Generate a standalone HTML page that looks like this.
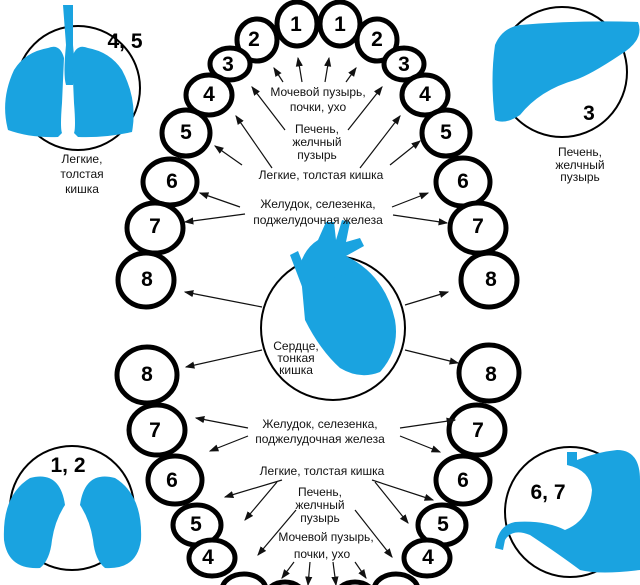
<!DOCTYPE html>
<html><head><meta charset="utf-8"><style>
html,body{margin:0;padding:0;background:#fff;}
svg{display:block}
text{font-family:"Liberation Sans",sans-serif;}
.t{fill:#fff;stroke:#000;stroke-width:5}
.n{font-weight:bold;font-size:21px;text-anchor:middle}
.l{font-size:12px;text-anchor:middle;fill:#111}
.a{stroke:#111;stroke-width:1.2;marker-end:url(#ar)}
</style></head><body>
<svg width="640" height="585" viewBox="0 0 640 585">
<defs><marker id="ar" markerWidth="8" markerHeight="8" refX="7" refY="4" orient="auto"><path d="M0,1 L8,4 L0,7z" fill="#111"/></marker></defs>
<!-- organ circles -->
<circle cx="78" cy="88" r="62" fill="none" stroke="#000" stroke-width="2"/>
<circle cx="562" cy="72" r="65" fill="none" stroke="#000" stroke-width="2"/>
<circle cx="72" cy="508" r="62" fill="none" stroke="#000" stroke-width="2"/>
<circle cx="570" cy="512" r="65" fill="none" stroke="#000" stroke-width="2"/>
<circle cx="333" cy="328" r="72" fill="#fff" stroke="#000" stroke-width="2"/>
<!-- lungs -->
<g fill="#1aa3e0">
<path d="M63,5 h10 v40 q3,30 0,40 L66,85 q-3,-10 0,-40z"/>
<path d="M48,48 q12,-5 16,10 l-2,45 q-2,25 0,30 l-4,4 Q30,138 8,130 Q0,100 14,70 Q25,52 48,48z"/>
<path d="M88,48 q-12,-5 -16,10 l2,45 q2,25 0,30 l4,4 Q106,138 132,132 Q138,100 122,70 Q110,52 88,48z"/>
<!-- liver -->
<path d="M520,25 Q580,20 638,22 Q645,40 620,55 Q590,75 575,80 Q540,90 520,115 Q505,125 495,120 Q490,80 495,45 Q502,28 520,25z"/>
<!-- kidneys -->
<path d="M30,478 Q60,470 65,505 Q55,520 52,540 Q50,560 40,568 Q8,570 4,540 Q2,495 30,478z"/>
<path d="M115,478 Q85,470 80,505 Q90,520 93,540 Q95,560 105,568 Q137,570 141,540 Q143,495 115,478z"/>
<!-- stomach -->
<path d="M567,452 h10 v8 q20,-8 40,-10 Q640,450 640,480 L640,570 Q600,575 580,570 Q560,555 530,535 Q512,528 505,540 L503,550 L495,548 Q498,525 515,522 Q545,520 565,530 Q590,520 592,490 Q590,470 567,465z"/>
<!-- heart -->
<path d="M318,240 l8,-18 8,0 2,18 6,-20 8,2 -4,20 14,-4 4,8 -18,10 Q385,275 395,320 Q400,350 380,372 Q360,380 340,368 Q320,350 305,320 L300,265 Q305,248 318,240z"/>
<path d="M290,255 l8,-4 12,30 6,-10 40,-8 2,8 -36,10 -6,14 -10,2z"/>
</g>
<!-- organ labels -->
<text class="n" x="125" y="48">4, 5</text>
<text class="l" x="82" y="163">Легкие,</text><text class="l" x="82" y="178">толстая</text><text class="l" x="82" y="193">кишка</text>
<text class="n" x="589" y="120">3</text>
<text class="l" x="580" y="156">Печень,</text><text class="l" x="580" y="169">желчный</text><text class="l" x="580" y="181">пузырь</text>
<text class="n" x="68" y="472">1, 2</text>
<text class="n" x="548" y="499">6, 7</text>
<text class="l" x="296" y="350">Сердце,</text><text class="l" x="296" y="362">тонкая</text><text class="l" x="296" y="374">кишка</text>
<!-- upper teeth -->
<g>
<ellipse class="t" cx="297" cy="24" rx="20" ry="22"/><ellipse class="t" cx="340" cy="24" rx="20" ry="22"/>
<ellipse class="t" cx="257" cy="40" rx="20" ry="21"/><ellipse class="t" cx="377" cy="40" rx="20" ry="21"/>
<ellipse class="t" cx="230" cy="64" rx="20" ry="16"/><ellipse class="t" cx="404" cy="64" rx="20" ry="16"/>
<ellipse class="t" cx="209" cy="95" rx="23" ry="20"/><ellipse class="t" cx="425" cy="95" rx="23" ry="20"/>
<ellipse class="t" cx="186" cy="133" rx="24" ry="23"/><ellipse class="t" cx="446" cy="133" rx="24" ry="23"/>
<ellipse class="t" cx="170" cy="182" rx="27" ry="23"/><ellipse class="t" cx="463" cy="182" rx="27" ry="24"/>
<ellipse class="t" cx="155" cy="228" rx="28" ry="25"/><ellipse class="t" cx="478" cy="228" rx="28" ry="25"/>
<ellipse class="t" cx="146" cy="280" rx="28" ry="27"/><ellipse class="t" cx="489" cy="280" rx="28" ry="27"/>
<!-- lower -->
<ellipse class="t" cx="147" cy="375" rx="30" ry="28"/><ellipse class="t" cx="489" cy="373" rx="30" ry="28"/>
<ellipse class="t" cx="157" cy="430" rx="28" ry="25"/><ellipse class="t" cx="477" cy="430" rx="28" ry="25"/>
<ellipse class="t" cx="175" cy="480" rx="27" ry="24"/><ellipse class="t" cx="463" cy="480" rx="27" ry="24"/>
<ellipse class="t" cx="197" cy="525" rx="24" ry="20"/><ellipse class="t" cx="442" cy="525" rx="24" ry="20"/>
<ellipse class="t" cx="212" cy="558" rx="23" ry="18"/><ellipse class="t" cx="427" cy="558" rx="23" ry="18"/>
<ellipse class="t" cx="244" cy="590" rx="22" ry="16"/><ellipse class="t" cx="396" cy="590" rx="22" ry="16"/>
<ellipse class="t" cx="285" cy="598" rx="20" ry="16"/><ellipse class="t" cx="355" cy="598" rx="20" ry="16"/>
</g>
<g class="n">
<text class="n" x="296" y="31">1</text><text class="n" x="340" y="31">1</text>
<text class="n" x="254" y="46">2</text><text class="n" x="377" y="46">2</text>
<text class="n" x="228" y="71">3</text><text class="n" x="404" y="71">3</text>
<text class="n" x="209" y="101">4</text><text class="n" x="425" y="101">4</text>
<text class="n" x="186" y="139">5</text><text class="n" x="446" y="139">5</text>
<text class="n" x="172" y="188">6</text><text class="n" x="463" y="188">6</text>
<text class="n" x="155" y="233">7</text><text class="n" x="478" y="233">7</text>
<text class="n" x="147" y="286">8</text><text class="n" x="491" y="286">8</text>
<text class="n" x="147" y="381">8</text><text class="n" x="491" y="381">8</text>
<text class="n" x="155" y="437">7</text><text class="n" x="478" y="437">7</text>
<text class="n" x="172" y="487">6</text><text class="n" x="463" y="487">6</text>
<text class="n" x="196" y="531">5</text><text class="n" x="443" y="531">5</text>
<text class="n" x="208" y="564">4</text><text class="n" x="428" y="564">4</text>
</g>
<!-- center labels upper -->
<text class="l" x="318" y="96">Мочевой пузырь,</text>
<text class="l" x="318" y="111">почки, ухо</text>
<text class="l" x="317" y="133">Печень,</text><text class="l" x="317" y="146">желчный</text><text class="l" x="317" y="159">пузырь</text>
<text class="l" x="321" y="179">Легкие, толстая кишка</text>
<text class="l" x="318" y="208">Желудок, селезенка,</text>
<text class="l" x="318" y="224">поджелудочная железа</text>
<!-- lower labels -->
<text class="l" x="320" y="428">Желудок, селезенка,</text>
<text class="l" x="320" y="443">поджелудочная железа</text>
<text class="l" x="322" y="475">Легкие, толстая кишка</text>
<text class="l" x="320" y="496">Печень,</text><text class="l" x="320" y="509">желчный</text><text class="l" x="320" y="522">пузырь</text>
<text class="l" x="326" y="541">Мочевой пузырь,</text>
<text class="l" x="322" y="558">почки, ухо</text>
<!-- arrows upper -->
<line class="a" x1="283" y1="82" x2="274" y2="68"/>
<line class="a" x1="302" y1="82" x2="298" y2="58"/>
<line class="a" x1="325" y1="82" x2="329" y2="58"/>
<line class="a" x1="346" y1="82" x2="356" y2="68"/>
<line class="a" x1="285" y1="130" x2="252" y2="87"/>
<line class="a" x1="348" y1="130" x2="382" y2="87"/>
<line class="a" x1="272" y1="168" x2="236" y2="116"/>
<line class="a" x1="242" y1="165" x2="215" y2="146"/>
<line class="a" x1="360" y1="168" x2="400" y2="116"/>
<line class="a" x1="390" y1="165" x2="420" y2="141"/>
<line class="a" x1="240" y1="207" x2="200" y2="193"/>
<line class="a" x1="245" y1="214" x2="185" y2="222"/>
<line class="a" x1="392" y1="207" x2="428" y2="193"/>
<line class="a" x1="393" y1="215" x2="447" y2="223"/>
<line class="a" x1="262" y1="307" x2="185" y2="292"/>
<line class="a" x1="405" y1="305" x2="448" y2="292"/>
<line class="a" x1="262" y1="350" x2="186" y2="367"/>
<line class="a" x1="405" y1="350" x2="458" y2="363"/>
<!-- arrows lower -->
<line class="a" x1="248" y1="428" x2="196" y2="418"/>
<line class="a" x1="248" y1="436" x2="210" y2="451"/>
<line class="a" x1="400" y1="428" x2="455" y2="420"/>
<line class="a" x1="400" y1="436" x2="440" y2="452"/>
<line class="a" x1="282" y1="480" x2="225" y2="497"/>
<line class="a" x1="277" y1="482" x2="245" y2="520"/>
<line class="a" x1="372" y1="480" x2="433" y2="500"/>
<line class="a" x1="375" y1="482" x2="408" y2="523"/>
<line class="a" x1="296" y1="510" x2="258" y2="555"/>
<line class="a" x1="355" y1="510" x2="392" y2="557"/>
<line class="a" x1="294" y1="562" x2="282" y2="578"/>
<line class="a" x1="310" y1="562" x2="308" y2="585"/>
<line class="a" x1="333" y1="562" x2="336" y2="585"/>
<line class="a" x1="355" y1="562" x2="366" y2="578"/>
</svg>
</body></html>
